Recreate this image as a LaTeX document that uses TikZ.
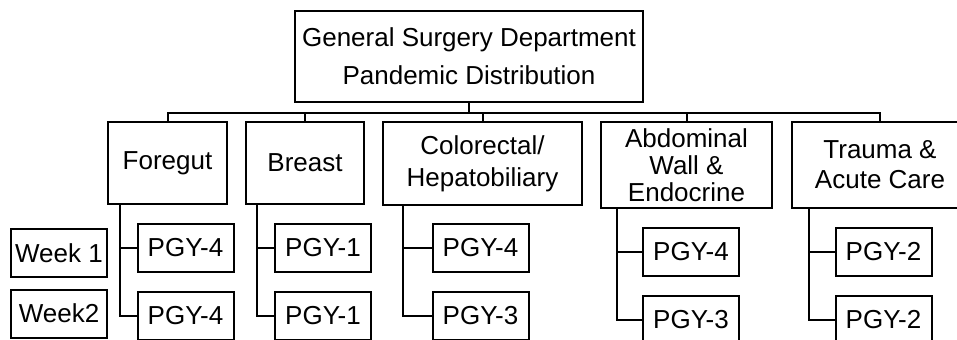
\documentclass[tikz,border=0pt]{standalone}
\usepackage{fontspec}
\setmainfont{Liberation Sans}
\tikzset{
  box/.style={draw, line width=1pt, align=center, inner sep=0pt,
    font=\fontsize{13}{15.5}\selectfont},
  dept/.style={box, minimum height=41pt},
  pgy/.style={box, minimum width=48pt, minimum height=24pt},
  link/.style={line width=1pt},
}

\begin{document}
\begin{tikzpicture}[x=0.5pt,y=-0.5pt]
    \useasboundingbox (0,0) rectangle (957,339);
    \clip (0,0) rectangle (957,339);
    % department heads
    \node[box, minimum width=174pt, minimum height=45.5pt, font=\fontsize{13}{19}\selectfont] (gsd) at (469,56.5) {General Surgery Department\\Pandemic Distribution};
    \node[dept, minimum width=59.5pt] (fore) at (167.5,163) {Foregut};
    \node[dept, minimum width=59pt] (breast) at (305,163) {Breast};
    \node[dept, minimum width=99.5pt, minimum height=41.5pt, font=\fontsize{13}{16}\selectfont] (colo) at (482.5,163.5) {Colorectal/\\Hepatobiliary};
    \node[dept, minimum width=85.5pt, minimum height=43pt, font=\fontsize{13}{13.5}\selectfont] (abdo) at (686.5,165) {Abdominal\\Wall \&\\Endocrine};
    \node[dept, minimum width=88pt, minimum height=43pt, font=\fontsize{13}{15}\selectfont] (trauma) at (880,165) {Trauma \&\\Acute Care};
    % weeks
    \node[pgy] (wk1) at (59,253) {Week 1};
    \node[pgy] (wk2) at (59,313.5) {Week2};
    % residents
    \foreach \dep/\x/\y/\a/\b in {fore/185.5/248/4/4, breast/323/248/1/1, colo/480.5/248/4/3, abdo/691/252/4/3, trauma/883.5/252/2/2}{
        \node[pgy] (\dep-1) at (\x,\y) {PGY-\a};
        \node[pgy] (\dep-2) at (\x,\y+68) {PGY-\b};
    }
    \foreach \dep in {fore,breast,colo,abdo,trauma}
        \draw[link] (gsd.south) -- ++(0,10) -| (\dep.north);
    \foreach \dep/\off in {fore/6.5pt, breast/6pt, colo/10.5pt, abdo/8.5pt, trauma/9pt}{
        \coordinate (\dep-v) at ([xshift=\off]\dep.south west);
        \draw[link] (\dep-v) |- (\dep-1.west);
        \draw[link] (\dep-v) |- (\dep-2.west);
    }
\end{tikzpicture}
\end{document}
